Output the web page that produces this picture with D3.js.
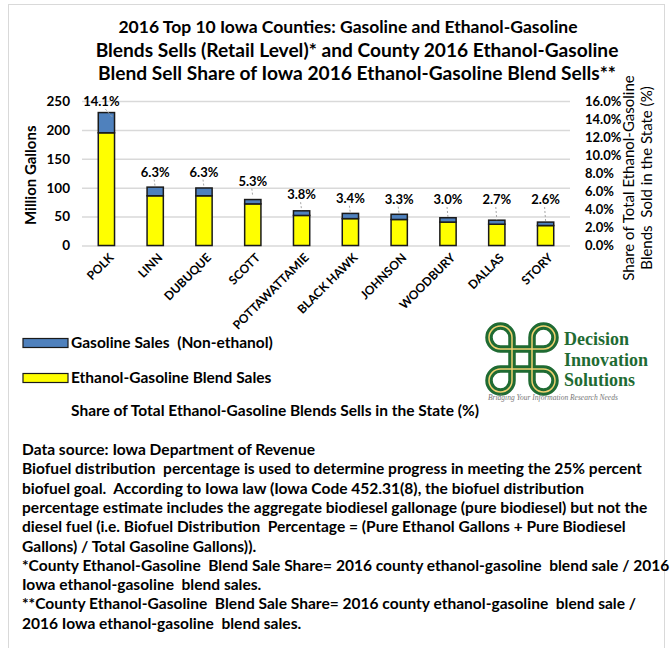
<!DOCTYPE html>
<html><head><meta charset="utf-8">
<script src="https://cdn.jsdelivr.net/npm/d3@7"></script>
<style>
body{margin:0;background:#fff;}
svg{display:block;font-family:Lato,"Open Sans",sans-serif;}
</style></head>
<body>
<svg id="chart" width="671" height="648"></svg>
<script>
const counties = ["POLK","LINN","DUBUQUE","SCOTT","POTTAWATTAMIE","BLACK HAWK","JOHNSON","WOODBURY","DALLAS","STORY"];
const blendSales = [195, 86, 86, 72, 52, 46.5, 45, 40.5, 36.8, 34.5];   // million gallons
const gasolineSales = [35, 15, 13.5, 7.5, 8, 9, 9, 7.5, 7, 6];          // million gallons
const shares = [0.141, 0.063, 0.063, 0.053, 0.038, 0.034, 0.033, 0.030, 0.027, 0.026];
const leftTicks = [0, 50, 100, 150, 200, 250];
const rightTicks = [0, 0.02, 0.04, 0.06, 0.08, 0.10, 0.12, 0.14, 0.16];
const titleLines = ["2016 Top 10 Iowa Counties: Gasoline and Ethanol-Gasoline",
  "Blends Sells (Retail Level)* and County 2016 Ethanol-Gasoline",
  "Blend Sell Share of Iowa 2016 Ethanol-Gasoline Blend Sells**"];
const legendLabels = ["Gasoline Sales  (Non-ethanol)", "Ethanol-Gasoline Blend Sales", "Share of Total Ethanol-Gasoline Blends Sells in the State (%)"];
const noteLines = ["Data source: Iowa Department of Revenue",
  "Biofuel distribution  percentage is used to determine progress in meeting the 25% percent",
  "biofuel goal.  According to Iowa law (Iowa Code 452.31(8), the biofuel distribution",
  "percentage estimate includes the aggregate biodiesel gallonage (pure biodiesel) but not the",
  "diesel fuel (i.e. Biofuel Distribution  Percentage = (Pure Ethanol Gallons + Pure Biodiesel",
  "Gallons) / Total Gasoline Gallons)).",
  "*County Ethanol-Gasoline  Blend Sale Share= 2016 county ethanol-gasoline  blend sale / 2016",
  "Iowa ethanol-gasoline  blend sales.",
  "**County Ethanol-Gasoline  Blend Sale Share= 2016 county ethanol-gasoline  blend sale /",
  "2016 Iowa ethanol-gasoline  blend sales."];

const svg = d3.select("#chart");
const BLUE = "#4F81BD", YELLOW = "#FFFF00", GRID = "#d9d9d9", TXT = "#000";

// outer frame
svg.append("rect").attr("x", 8.5).attr("y", 4.5).attr("width", 656).attr("height", 660)
  .attr("fill", "none").attr("stroke", "#d9d9d9");

function fit(sel, w){ sel.each(function(){ const n=this; const cur=n.getComputedTextLength(); if(cur>0){ const fs=parseFloat(d3.select(n).attr("font-size")); d3.select(n).attr("font-size", (fs*w/cur).toFixed(2)); } }); }

// title
const titleW = [459, 523, 518];
titleLines.forEach((t,i)=>{
  svg.append("text").attr("x", i===0 ? 348 : 357).attr("y", 33 + i*23.5).attr("text-anchor","middle")
    .attr("font-size", 18).attr("font-weight","bold").attr("fill",TXT).text(t).call(fit, titleW[i]);
});

const plot = {left: 82, right: 570, top: 101, bottom: 245.5};
const x = d3.scaleBand().domain(counties).range([plot.left, plot.right]).paddingInner(2/3).paddingOuter(1/3);
const yL = d3.scaleLinear().domain([0, 250]).range([plot.bottom, plot.top]);
const yR = d3.scaleLinear().domain([0, 0.16]).range([plot.bottom, plot.top]);

// gridlines
svg.append("g").selectAll("line").data(leftTicks).join("line")
  .attr("x1", plot.left).attr("x2", plot.right).attr("y1", d=>yL(d)+0.5).attr("y2", d=>yL(d)+0.5)
  .attr("stroke", GRID).attr("stroke-width", 1.5);

// left axis
const axL = d3.axisLeft(yL).tickValues(leftTicks).tickSize(0).tickPadding(12);
const gL = svg.append("g").attr("transform", `translate(${plot.left},0)`).call(axL);
gL.select(".domain").remove();
gL.selectAll("text").attr("font-size", 13.5).attr("font-weight","bold").attr("fill",TXT).attr("font-family","Lato,sans-serif");

svg.append("text").attr("transform", `translate(36,${(plot.top+plot.bottom)/2+2}) rotate(-90)`)
  .attr("text-anchor","middle").attr("font-size", 15).attr("font-weight","bold").attr("fill",TXT).text("Million Gallons");

// right axis
const axR = d3.axisRight(yR).tickValues(rightTicks).tickFormat(d3.format(".1%")).tickSize(0).tickPadding(0);
const gR = svg.append("g").attr("transform", `translate(585,0)`).call(axR);
gR.select(".domain").remove();
gR.selectAll("text").attr("font-size", 13).attr("font-weight","bold").attr("fill",TXT).attr("font-family","Lato,sans-serif");

svg.append("text").attr("transform", `translate(634,178) rotate(-90)`)
  .attr("text-anchor","middle").attr("font-size", 15).attr("fill",TXT).text("Share of Total Ethanol-Gasoline");
svg.append("text").attr("transform", `translate(652,178) rotate(-90)`)
  .attr("text-anchor","middle").attr("font-size", 15).attr("fill",TXT).style("white-space","pre").text("Blends  Sold in the State (%)");

// stacked bars
const data = counties.map((c,i)=>({c, blend: blendSales[i], gas: gasolineSales[i], share: shares[i]}));
const bars = svg.append("g");
bars.selectAll("rect.blend").data(data).join("rect").attr("class","blend")
  .attr("x", d=>x(d.c)).attr("width", x.bandwidth())
  .attr("y", d=>yL(d.blend)).attr("height", d=>yL(0)-yL(d.blend))
  .attr("fill", YELLOW).attr("stroke", "#1a1a1a").attr("stroke-width", 1.5);
bars.selectAll("rect.gas").data(data).join("rect").attr("class","gas")
  .attr("x", d=>x(d.c)).attr("width", x.bandwidth())
  .attr("y", d=>yL(d.blend+d.gas)).attr("height", d=>yL(d.blend)-yL(d.blend+d.gas))
  .attr("fill", BLUE).attr("stroke", "#1a1a1a").attr("stroke-width", 1.5);

// share labels with leader lines
const cx = d => x(d.c) + x.bandwidth()/2;
const labY = d => Math.min(yR(d.share) - 17, 199);
svg.append("g").selectAll("line").data(data.filter(d=>yR(d.share) - (labY(d)+8) > 3)).join("line")
  .attr("x1", d=>cx(d)-1).attr("x2", d=>cx(d)+ (d.share>0.1?6:0)).attr("y1", d=>labY(d)+8).attr("y2", d=>yR(d.share)-1)
  .attr("stroke", "#a6a6a6").attr("stroke-dasharray","2,2").attr("stroke-width",1);
svg.append("g").selectAll("text").data(data).join("text")
  .attr("x", d=>cx(d) + (d.share>0.1?-5:0)).attr("y", d=>labY(d)+5).attr("text-anchor","middle")
  .attr("font-size", 13).attr("font-weight","bold").attr("fill",TXT).text(d=>d3.format(".1%")(d.share));

// x labels
svg.append("g").selectAll("text").data(counties).join("text")
  .attr("transform", d=>`translate(${x(d)+x.bandwidth()/2+5},${plot.bottom+10}) rotate(-45)`)
  .attr("text-anchor","end").attr("dy","0.35em").attr("font-size", 12).attr("font-weight","bold").attr("fill",TXT).text(d=>d);

// legend
const legColors = [BLUE, YELLOW];
const legY = [343, 378, 411];
legendLabels.forEach((t,i)=>{
  if(i<2) svg.append("rect").attr("x", 23).attr("y", legY[i]-4.5).attr("width", 45).attr("height", 9)
    .attr("fill", legColors[i]).attr("stroke","#1a1a1a").attr("stroke-width",1.2);
  svg.append("text").attr("x", 71).attr("y", legY[i]+5).attr("font-size", 15.5).attr("font-weight","bold")
    .attr("fill",TXT).style("white-space","pre").text(t);
});

// logo (Bowen-knot style)
const logo = svg.append("g").attr("transform","translate(488,325)");
const s = 10, r = 11.5;
const kp = d3.path();
kp.moveTo(-s, -(s+r)); kp.lineTo(-s, s+r);
kp.moveTo(s, -(s+r)); kp.lineTo(s, s+r);
kp.moveTo(-(s+r), -s); kp.lineTo(s+r, -s);
kp.moveTo(-(s+r), s); kp.lineTo(s+r, s);
[[-1,-1],[1,-1],[-1,1],[1,1]].forEach(([sx,sy])=>{
  const ccx = sx*(s+r), ccy = sy*(s+r);
  kp.moveTo(sx*s, ccy);
  const st = Math.atan2(0, sx*s-ccx), en = Math.atan2(sy*s-ccy, 0);
  kp.arc(ccx, ccy, r, st, en, (sx*sy>0));
});
const kg = logo.append("g").attr("transform","translate(34,34)");
kg.append("path").attr("d", kp.toString()).attr("fill","none").attr("stroke","#1f6b33").attr("stroke-width",7.5).attr("stroke-linecap","round");
kg.append("path").attr("d", kp.toString()).attr("fill","none").attr("stroke","#f0d070").attr("stroke-width",1.5).attr("stroke-linecap","round");
["Decision","Innovation","Solutions"].forEach((t,i)=>{
  logo.append("text").attr("x",76).attr("y",20+i*20.5).attr("font-family","'Liberation Serif',serif")
    .attr("font-weight","bold").attr("font-size",18).attr("fill","#1f6b33").text(t);
});
logo.append("text").attr("x",0).attr("y",75).attr("font-family","'Liberation Serif',serif").attr("font-style","italic")
  .attr("font-size",7.5).attr("fill","#777").text("Bridging Your Information Research Needs");

// notes: one common font size, sized so the longest line matches the reference width
const notes = svg.append("g");
const noteTexts = notes.selectAll("text").data(noteLines).join("text")
  .attr("x", 22).attr("y", (d,i)=>455 + i*19.3).attr("font-size", 14).attr("font-weight","bold")
  .attr("fill",TXT).style("white-space","pre").text(d=>d);
const refNode = noteTexts.nodes()[1];
const noteSize = 14 * 620 / refNode.getComputedTextLength();
noteTexts.attr("font-size", noteSize.toFixed(2));
</script>
</body></html>
